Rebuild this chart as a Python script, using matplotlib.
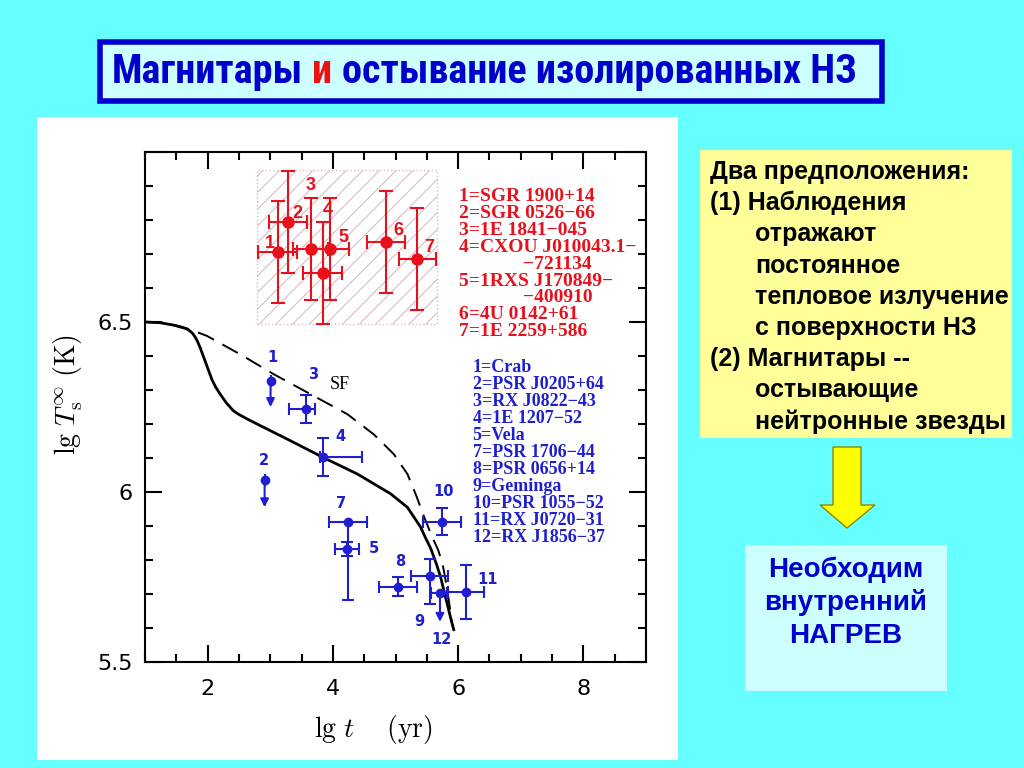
import matplotlib
matplotlib.use('Agg')
import matplotlib.pyplot as plt
from matplotlib import ticker, font_manager
from matplotlib.patches import Rectangle, Polygon

# магнитары (красные)
mag_id = ['1', '2', '3', '4', '5', '6', '7']
mag_t = [3.12, 3.28, 3.65, 3.95, 3.84, 4.85, 5.35]
mag_T = [6.706, 6.794, 6.715, 6.715, 6.645, 6.735, 6.685]
mag_dt = [0.31, 0.30, 0.28, 0.30, 0.31, 0.30, 0.30]
mag_dT = [0.15, 0.15, 0.15, 0.15, 0.15, 0.15, 0.15]
mag_lab_t = [3.00, 3.43, 3.64, 3.92, 4.17, 5.04, 5.54]
mag_lab_T = [6.73, 6.82, 6.90, 6.827, 6.75, 6.77, 6.718]
mag_box = [2.79, 5.66, 6.494, 6.946]   # заштрихованная область

# пульсары с ошибками (синие)
psr_t = [3.57, 3.84, 4.23, 4.24, 5.04, 5.544, 5.74, 6.125]
psr_T = [6.244, 6.104, 5.833, 5.913, 5.721, 5.753, 5.913, 5.706]
psr_dt_lo = [0.27, 0.05, 0.19, 0.30, 0.31, 0.30, 0.30, 0.29]
psr_dt_hi = [0.14, 0.62, 0.19, 0.30, 0.31, 0.29, 0.30, 0.29]
psr_dT_lo = [0.04, 0.056, 0.02, 0.23, 0.028, 0.081, 0.04, 0.08]
psr_dT_hi = [0.04, 0.056, 0.02, 0.0, 0.028, 0.049, 0.04, 0.08]

# верхние пределы (1, 2, 12)
lim_t = [3.005, 2.91, 5.71]
lim_T = [6.326, 6.036, 5.703]
lim_T_end = [6.25, 5.955, 5.618]
lim_dt_lo = [0.0, 0.0, 0.15]
lim_dt_hi = [0.0, 0.0, 0.12]

psr_id = ['1', '2', '3', '4', '5', '7', '8', '9', '10', '11', '12']
psr_lab_t = [3.03, 2.90, 3.68, 4.12, 4.65, 4.125, 5.08, 5.384, 5.77, 6.477, 5.73]
psr_lab_T = [6.395, 6.094, 6.347, 6.163, 5.833, 5.967, 5.797, 5.618, 6.0, 5.742, 5.567]

# кривые остывания
solid_t = [1.0, 1.24, 1.45, 1.61, 1.66, 1.70, 1.74, 1.77, 1.80, 1.83, 1.88, 1.93, 1.99, 2.07,
           2.13, 2.2, 2.3, 2.41, 2.5, 2.65, 2.79, 3.32, 3.84, 4.39, 4.92, 5.19, 5.40, 5.48,
           5.56, 5.65, 5.72, 5.78, 5.84, 5.88, 5.93]
solid_T = [6.500, 6.498, 6.491, 6.483, 6.480, 6.476, 6.470, 6.464, 6.456, 6.446, 6.425, 6.400,
           6.370, 6.330, 6.308, 6.288, 6.262, 6.239, 6.228, 6.213, 6.200, 6.151, 6.102, 6.053,
           5.995, 5.955, 5.897, 5.865, 5.835, 5.790, 5.750, 5.705, 5.660, 5.630, 5.595]
dash_t = [1.0, 1.3, 1.55, 1.72, 1.99, 2.52, 3.05, 3.69, 4.23, 4.65, 4.97, 5.19,
          5.33, 5.45, 5.58, 5.68, 5.75, 5.81, 5.86, 5.91]
dash_T = [6.500, 6.497, 6.488, 6.478, 6.459, 6.405, 6.347, 6.283, 6.229, 6.170, 6.112, 6.053,
          5.990, 5.930, 5.870, 5.830, 5.790, 5.730, 5.670, 5.605]

red_list = ['1=SGR 1900+14', '2=SGR 0526\u221266', '3=1E 1841\u2212045',
            '4=CXOU J010043.1\u2212', '\u2212721134', '5=1RXS J170849\u2212',
            '\u2212400910', '6=4U 0142+61', '7=1E 2259+586']
red_indent = [False, False, False, False, True, False, True, False, False]
blue_list = ['1=Crab', '2=PSR J0205+64', '3=RX J0822\u221243', '4=1E 1207\u221252',
             '5=Vela', '7=PSR 1706\u221244', '8=PSR 0656+14', '9=Geminga',
             '10=PSR 1055\u221252', '11=RX J0720\u221231', '12=RX J1856\u221237']

title_parts = ['Магнитары', 'и', 'остывание изолированных НЗ']
notes = ['Два предположения:', '(1) Наблюдения', 'отражают', 'постоянное',
         'тепловое излучение', 'с поверхности НЗ', '(2) Магнитары --',
         'остывающие', 'нейтронные звезды']
notes_indent = [False, False, True, True, True, True, False, True, True]
result = ['Необходим', 'внутренний', 'НАГРЕВ']

RED = '#e8101a'
BLUE = '#1f1fd0'
plt.rcParams['mathtext.fontset'] = 'cm'
plt.rcParams['hatch.linewidth'] = 0.8


def pick(names):
    for n in names:
        try:
            font_manager.findfont(n, fallback_to_default=False)
            return n
        except ValueError:
            pass
    return 'DejaVu Sans'


narrow = pick(['Liberation Sans Narrow', 'Roboto Condensed', 'Liberation Sans'])

fig = plt.figure(figsize=(10.24, 7.68), dpi=100)
fig.patch.set_facecolor('#66ffff')

# фон слайда в пикселях
bg = fig.add_axes([0, 0, 1, 1])
bg.set_xlim(0, 1024)
bg.set_ylim(768, 0)
bg.axis('off')
bg.add_patch(Rectangle((37, 117), 641, 643, fc='white', ec='none'))
bg.add_patch(Rectangle((100, 42), 782, 59, fc='#ccffff', ec='#0000cc', lw=4))
bg.add_patch(Rectangle((700, 150), 312, 288, fc='#ffff99', ec='none'))
bg.add_patch(Rectangle((745, 545), 202, 146, fc='#ccffff', ec='none'))
bg.add_patch(Polygon([(833, 447), (861, 447), (861, 505), (875, 505), (847, 528),
                      (820, 505), (833, 505)], closed=True, fc='#ffff00', ec='#8a8a00', lw=1))

for i, s in enumerate(notes):
    bg.text(755 if notes_indent[i] else 710, 172 + 31.2 * i, s, fontsize=18,
            fontweight='bold', family='Liberation Sans', va='center', ha='left', color='black')
for i, s in enumerate(result):
    bg.text(846, 570 + 33 * i, s, fontsize=20, fontweight='bold', family='Liberation Sans',
            va='center', ha='center', color='#0000cc')

# заголовок из трёх кусков: "и" красным
fig.canvas.draw()
r = fig.canvas.get_renderer()
full = ' '.join(title_parts)
probe = bg.text(112, 72, full, fontsize=24, fontweight='bold', family=narrow, va='center')
fs = 24 * 748 / probe.get_window_extent(r).width
probe.set_fontsize(fs)
x_full = probe.get_window_extent(r).x1
probe.set_text(title_parts[0] + ' ' + title_parts[1])
x_mid = probe.get_window_extent(r).x1
probe.remove()
kw = dict(fontsize=fs, fontweight='bold', family=narrow, va='center')
bg.text(112, 72, title_parts[0], ha='left', color='#0000cc', **kw)
bg.text(x_mid, 72, title_parts[1], ha='right', color='#ee1111', **kw)
bg.text(x_full, 72, title_parts[2], ha='right', color='#0000cc', **kw)

# график
ax = fig.add_axes([145 / 1024, 1 - 662 / 768, 501 / 1024, 510 / 768])
ax.set_xlim(1, 9)
ax.set_ylim(5.5, 7.0)

ax.add_patch(Rectangle((mag_box[0], mag_box[2]), mag_box[1] - mag_box[0], mag_box[3] - mag_box[2],
                       fill=False, hatch='//', ec='#d8bcc8', lw=1, ls=':'))

ax.plot(solid_t, solid_T, color='black', lw=2)
ax.plot(dash_t, dash_T, color='black', lw=1.4, dashes=(9, 5))

ax.errorbar(mag_t, mag_T, xerr=mag_dt, yerr=mag_dT, fmt='o', color=RED, ms=8,
            elinewidth=1.5, capsize=5, capthick=1.5)
for s, x, y in zip(mag_id, mag_lab_t, mag_lab_T):
    ax.text(x, y, s, color=RED, fontsize=13, fontweight='bold', family='Liberation Sans',
            ha='center', va='center')

ax.errorbar(psr_t, psr_T, xerr=[psr_dt_lo, psr_dt_hi], yerr=[psr_dT_lo, psr_dT_hi], fmt='o',
            color=BLUE, ms=6, elinewidth=1.5, capsize=4, capthick=1.5)
ax.errorbar(lim_t, lim_T, xerr=[lim_dt_lo, lim_dt_hi], fmt='o', color=BLUE, ms=6,
            elinewidth=1.5, capsize=4, capthick=1.5)
for x, y0, y1 in zip(lim_t, lim_T, lim_T_end):
    ax.annotate('', xy=(x, y1), xytext=(x, y0),
                arrowprops=dict(arrowstyle='-|>', color=BLUE, lw=1.5, mutation_scale=12,
                                shrinkA=0, shrinkB=0))
for s, x, y in zip(psr_id, psr_lab_t, psr_lab_T):
    ax.text(x, y, s, color=BLUE, fontsize=10.5, fontweight='bold', family='DejaVu Sans',
            ha='center', va='center')

ax.text(4.11, 6.317, 'SF', fontsize=13, family='Liberation Serif', ha='center', va='center')

for i, s in enumerate(red_list):
    ax.text(7.03 if red_indent[i] else 6.02, 6.8695 - 0.0498 * i, s, color=RED, fontsize=14,
            family='Liberation Serif', fontweight='bold', ha='left', va='center')
for i, s in enumerate(blue_list):
    ax.text(6.23, 6.366 - 0.05 * i, s, color=BLUE, fontsize=13,
            family='Liberation Serif', fontweight='bold', ha='left', va='center')

ax.xaxis.set_major_locator(ticker.MultipleLocator(2))
ax.xaxis.set_minor_locator(ticker.MultipleLocator(0.5))
ax.yaxis.set_major_locator(ticker.MultipleLocator(0.5))
ax.yaxis.set_minor_locator(ticker.MultipleLocator(0.1))
ax.yaxis.set_major_formatter(ticker.FuncFormatter(lambda v, p: '' if v > 6.9 else '%g' % v))
ax.tick_params(which='both', direction='in', top=True, right=True, width=1.5)
ax.tick_params(which='major', length=12, labelsize=16)
ax.tick_params(which='minor', length=6)
ax.tick_params(axis='x', pad=12)
ax.tick_params(axis='y', pad=9)
for sp in ax.spines.values():
    sp.set_linewidth(1.5)

ax.set_xlabel(r'$\mathrm{lg}\ t\quad\ \mathrm{(yr)}$', fontsize=20)
ax.set_ylabel(r'$\mathrm{lg}\ T_{\rm s}^{\infty}\ \mathrm{(K)}$', fontsize=20)
ax.xaxis.set_label_coords(0.455, -0.1)
ax.yaxis.set_label_coords(-0.12, 0.525)

fig.savefig('out.png', dpi=100, facecolor=fig.get_facecolor())
